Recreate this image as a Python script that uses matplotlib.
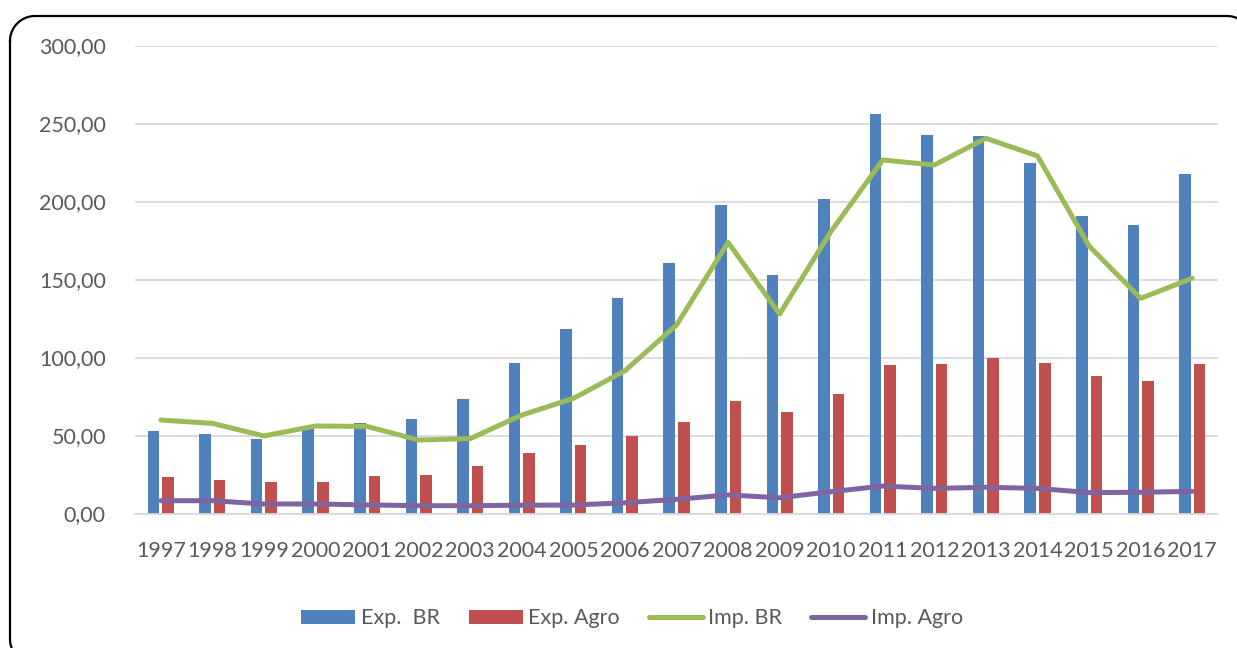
import matplotlib
matplotlib.use("Agg")
import matplotlib.pyplot as plt
import numpy as np
from matplotlib.ticker import FuncFormatter

plt.rcParams['font.family'] = ['Lato', 'DejaVu Sans']

years = ['1997', '1998', '1999', '2000', '2001', '2002', '2003', '2004', '2005', '2006', '2007',
         '2008', '2009', '2010', '2011', '2012', '2013', '2014', '2015', '2016', '2017']
exp_br = [52.7, 51.0, 48.0, 54.8, 57.8, 60.4, 73.2, 96.7, 118.5, 137.9, 160.6,
          198.0, 152.9, 201.8, 255.9, 242.4, 242.0, 224.9, 190.9, 185.2, 217.6]
exp_agro = [23.2, 21.5, 20.4, 20.4, 23.8, 24.7, 30.4, 38.8, 43.7, 49.5, 58.4,
            71.9, 64.9, 76.4, 95.0, 95.8, 99.7, 96.7, 88.1, 84.9, 96.0]
imp_br = [59.9, 57.8, 49.7, 56.1, 55.8, 47.1, 48.0, 63.1, 73.8, 91.5, 120.8,
          173.8, 127.9, 181.0, 226.6, 223.4, 240.5, 229.2, 171.5, 137.9, 150.8]
imp_agro = [8.2, 8.2, 6.1, 6.1, 5.5, 5.0, 5.0, 5.3, 5.4, 6.9, 9.1,
            11.9, 10.1, 14.0, 17.6, 16.1, 16.8, 16.1, 13.4, 13.6, 14.2]
yticks = [0, 50, 100, 150, 200, 250, 300]

c_blue = '#4f81bd'
c_red = '#c0504d'
c_green = '#9bbb59'
c_purple = '#8064a2'
txt = '#595959'
fs = 15.5

fig = plt.figure(figsize=(12.37, 6.48), dpi=100)

# background axes in pixel units (y downward) for the rounded frame
bg = fig.add_axes([0, 0, 1, 1], zorder=-5)
bg.set_xlim(0, 1237)
bg.set_ylim(648, 0)
bg.axis('off')
L, T, R, B, r = 10, 16, 1252, 664, 25
t = np.linspace(0, np.pi / 2, 30)
tl = np.column_stack([L + r - r * np.cos(t), T + r - r * np.sin(t)])
tr = np.column_stack([R - r + r * np.sin(t), T + r - r * np.cos(t)])
br_ = np.column_stack([R - r + r * np.cos(t), B - r + r * np.sin(t)])
bl = np.column_stack([L + r - r * np.sin(t), B - r + r * np.cos(t)])
frame = np.vstack([tl, tr, br_, bl, tl[:1]])
bg.plot(frame[:, 0], frame[:, 1], color='black', lw=1.6, solid_joinstyle='round')

ax = fig.add_axes([135/1237, 1-513.5/648, (1218-135)/1237, (513.5-45.5)/648])
ax.patch.set_alpha(0)

x = np.arange(len(years))
w = 0.225
off = 0.142
h1 = ax.bar(x - off, exp_br, width=w, color=c_blue, label='Exp.  BR', zorder=2)
h2 = ax.bar(x + off, exp_agro, width=w, color=c_red, label='Exp. Agro', zorder=2)
h3, = ax.plot(x, imp_br, color=c_green, lw=3.6, label='Imp. BR', zorder=3,
              solid_joinstyle='round', solid_capstyle='round')
h4, = ax.plot(x, imp_agro, color=c_purple, lw=3.6, label='Imp. Agro', zorder=3,
              solid_joinstyle='round', solid_capstyle='round')

ax.set_xlim(-0.5, len(years) - 0.5)
ax.set_ylim(0, 300)
ax.set_yticks(yticks)
ax.yaxis.set_major_formatter(FuncFormatter(lambda v, p: f"{v:.2f}".replace('.', ',')))
ax.set_xticks(x)
ax.set_xticklabels(years)
ax.grid(axis='y', color='#d9d9d9', lw=1.3, zorder=0)
ax.set_axisbelow(True)
for s in ['top', 'right', 'left']:
    ax.spines[s].set_visible(False)
ax.spines['bottom'].set_color('#d9d9d9')
ax.spines['bottom'].set_linewidth(1.3)
ax.tick_params(axis='both', length=0, labelsize=fs, colors=txt)
ax.tick_params(axis='y', pad=21)
ax.tick_params(axis='x', pad=20)

leg = ax.legend([h1, h2, h3, h4], ['Exp.  BR', 'Exp. Agro', 'Imp. BR', 'Imp. Agro'],
                loc='center', bbox_to_anchor=(632/1237, 1-618.5/648), bbox_transform=fig.transFigure,
                ncol=4, frameon=False, fontsize=fs, handlelength=2.5, handleheight=0.68,
                handletextpad=0.25, columnspacing=1.36)
for tx in leg.get_texts():
    tx.set_color(txt)

fig.savefig('out.png', dpi=100)
